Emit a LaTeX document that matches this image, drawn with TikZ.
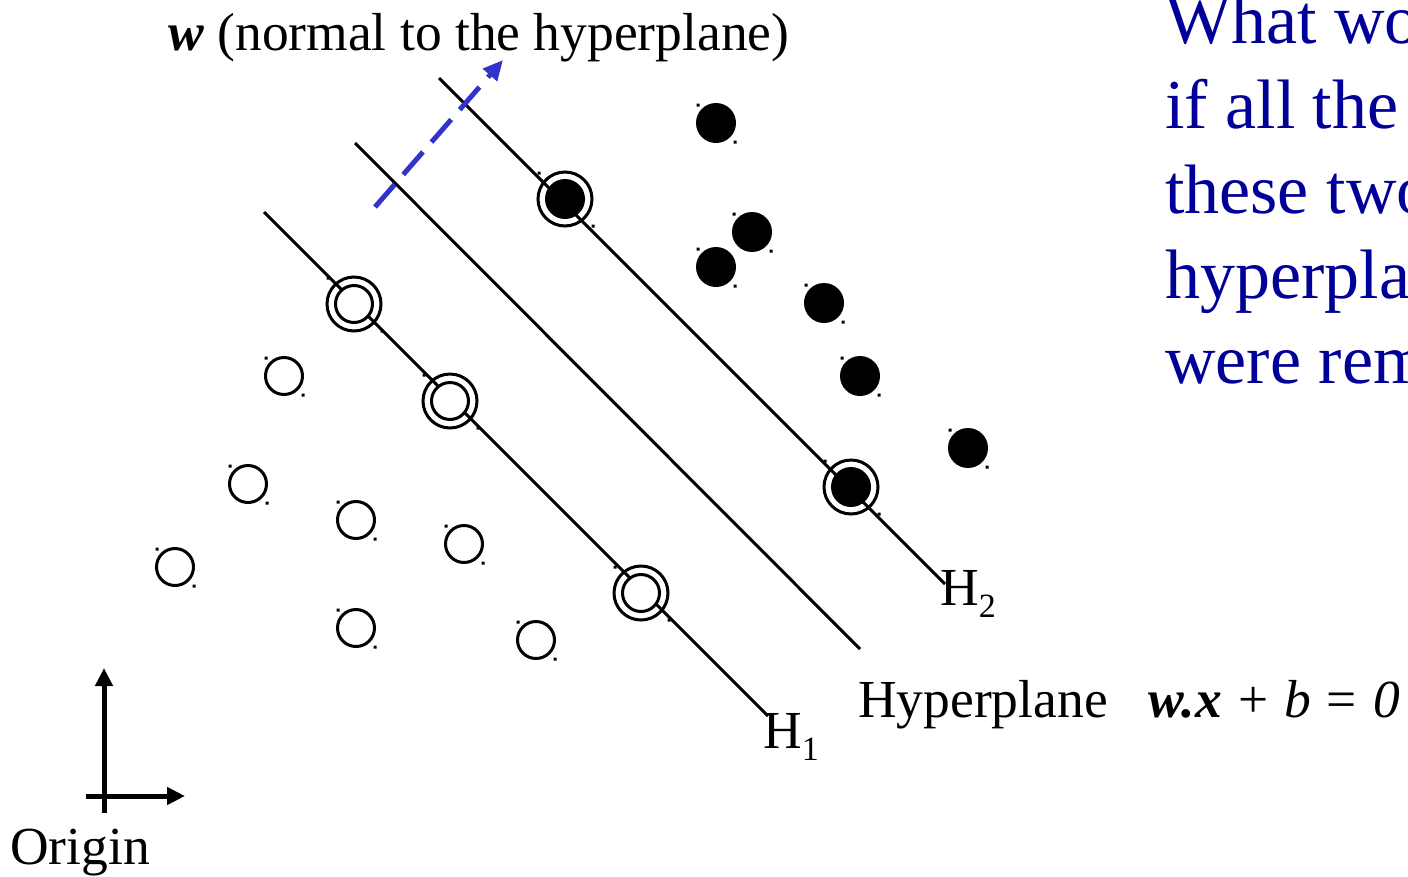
\documentclass[tikz,border=0pt]{standalone}
\usepackage{fontspec}
\setmainfont{Liberation Serif}
\usetikzlibrary{arrows.meta}
\definecolor{qblue}{HTML}{000099}
\definecolor{wblue}{HTML}{3333CC}

\begin{document}
\begin{tikzpicture}[x=1pt, y=-1pt,
  plane/.style ={black, line width=3pt},
  negPt/.style ={circle, draw=black, fill=white, inner sep=0pt, minimum size=37pt, line width=3pt},
  posPt/.style ={circle, fill=black, inner sep=0pt, minimum size=40pt},
  svRing/.style={circle, draw=black, inner sep=0pt, minimum size=54pt, line width=3pt},
  axis/.style  ={black, line width=5pt, -{Triangle[length=18pt,width=17pt]}},
  lbl/.style   ={font=\fontsize{53.5}{60}\selectfont, inner sep=0pt, anchor=base west},
  qtext/.style ={font=\fontsize{70}{85}\selectfont\color{qblue}, inner sep=0pt, anchor=base west},
]
\useasboundingbox (0,0) rectangle (1408,876);

% H1, hyperplane, H2
\coordinate (h1s) at (264,212); \coordinate (h1e) at (768,716);
\coordinate (h0s) at (355,143); \coordinate (h0e) at (860,649);
\coordinate (h2s) at (439,78);  \coordinate (h2e) at (945,584);
\draw[plane] (h1s) -- (h1e);
\draw[plane] (h0s) -- (h0e);
\draw[plane] (h2s) -- (h2e);

% normal vector w
\coordinate (ws) at (375,207); \coordinate (wt) at (503,60);
\draw[wblue, line width=5pt, dash pattern=on 30pt off 13pt, -{Triangle[length=20pt,width=18pt]}] (ws) -- (wt);

% open points (one class)
\foreach \x/\y [count=\i] in {284/376, 248/484, 356/520, 464/544, 175/567, 356/628, 536/640} {
  \node[negPt] (n\i) at (\x,\y) {};
  \fill (n\i.center) +(-19.5,-19.5) rectangle +(-16.5,-16.5) +(17.5,17.5) rectangle +(20.5,20.5);
}
% filled points (other class)
\foreach \x/\y [count=\i] in {716/123, 752/232, 716/267, 824/303, 860/376, 968/448} {
  \node[posPt] (p\i) at (\x,\y) {};
  \fill (p\i.center) +(-19.5,-19.5) rectangle +(-16.5,-16.5) +(17.5,17.5) rectangle +(20.5,20.5);
}
% support vectors on H1
\foreach \x/\y [count=\i] in {354/304, 450/401, 641/593} {
  \node[svRing] (svn\i) at (\x,\y) {};
  \node[negPt] (sn\i) at (\x,\y) {};
  \fill (svn\i.center) +(-27.5,-27.5) rectangle +(-24.5,-24.5) +(26.5,25.5) rectangle +(29.5,28.5);
}
% support vectors on H2
\foreach \x/\y [count=\i] in {565/199, 851/487} {
  \node[svRing] (svp\i) at (\x,\y) {};
  \node[posPt] (sp\i) at (\x,\y) {};
  \fill (svp\i.center) +(-27.5,-27.5) rectangle +(-24.5,-24.5) +(26.5,25.5) rectangle +(29.5,28.5);
}

% axes
\coordinate (ya) at (104,813); \coordinate (yb) at (104,668);
\coordinate (xa) at (86,796);  \coordinate (xb) at (185,796);
\draw[axis] (ya) -- (yb);
\draw[axis] (xa) -- (xb);

% labels
\node[lbl] (wlbl)  at (168,50)  {\textbf{\textit{w}} (normal to the hyperplane)};
\node[lbl] (h2lbl) at (940,605) {H\raisebox{-12pt}{\fontsize{34}{34}\selectfont 2}};
\node[lbl] (h1lbl) at (763,748) {H\raisebox{-12pt}{\fontsize{34}{34}\selectfont 1}};
\node[lbl] (h0lbl) at (858,717) {Hyperplane};
\node[lbl] (eqlbl) at (1148,717) {\textbf{\textit{w.x}}\hspace{16pt}+\hspace{16pt}\textit{b}\hspace{16pt}=\hspace{16pt}\textit{0}};
\node[lbl] (orig)  at (10,864)  {Origin};

% question
\foreach \txt [count=\i] in {What wo, if all the, these two, hyperpla, were rem}
  \node[qtext] (q\i) at (1165,{43+85*(\i-1)}) {\txt};
\end{tikzpicture}
\end{document}
